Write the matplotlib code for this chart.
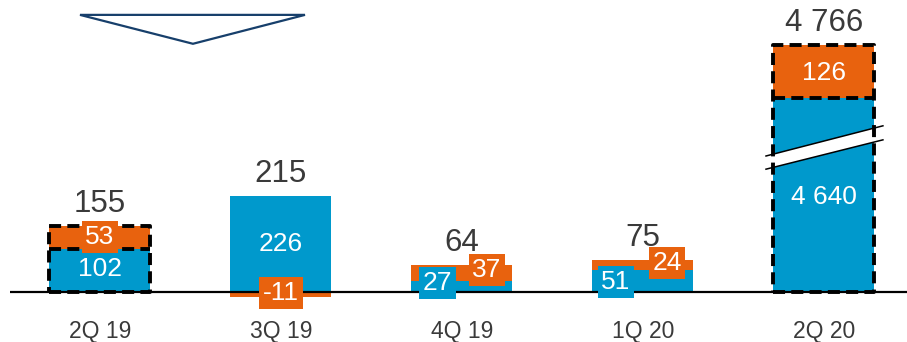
import matplotlib
matplotlib.use("Agg")
import matplotlib.pyplot as plt
from matplotlib.patches import Polygon

plt.rcParams["font.family"] = ["Liberation Sans", "DejaVu Sans"]

# ---- data -------------------------------------------------------------
quarters = ["2Q 19", "3Q 19", "4Q 19", "1Q 20", "2Q 20"]
base_part = [102, 226, 27, 51, 4640]      # blue segment
extra_part = [53, -11, 37, 24, 126]       # orange segment
totals = [155, 215, 64, 75, 4766]
highlighted = [True, False, False, False, True]

# ---- styling ----------------------------------------------------------
BLUE = "#0099CC"
ORANGE = "#E8620E"
NAVY = "#173F6B"
TEXT = "#3A3A3A"
BAR_W = 0.558

# values between these two are cut out of the y axis (broken bar)
BREAK_LOW, BREAK_HIGH = 300, 4484


def shown(v):
    return v if v < BREAK_HIGH else v - (BREAK_HIGH - BREAK_LOW)


def fmt(v):
    return f"{v:,}".replace(",", " ")


# label anchor layout per bar: (x offset, y) in axis units
base_lbl = [(0, 54), (0, 113), (-0.133, 21), (-0.149, 23.5), (0, 224)]
extra_lbl = [(0, 129), (0, -2), (0.138, 52), (0.133, 68), (0, 515)]
base_box = [False, False, True, True, False]
extra_box = [True, True, True, True, False]

fig = plt.figure(figsize=(9.07, 3.42), dpi=100)
ax = fig.add_axes([0, 0, 1, 1])
ax.set_xlim(-0.552, 4.459)
ax.set_ylim(-117.6, 687)
ax.axis("off")

xs = list(range(len(quarters)))
b_h = [shown(v) for v in base_part]
e_bottom = [b if e >= 0 else 0 for b, e in zip(b_h, extra_part)]
ax.bar(xs, b_h, width=BAR_W, color=BLUE, zorder=2)
ax.bar(xs, extra_part, bottom=e_bottom, width=BAR_W, color=ORANGE, zorder=2)

# baseline
ax.plot([-0.497, 4.459], [0, 0], color="black", lw=1.6, zorder=4,
        solid_capstyle="butt")

for i, x in enumerate(xs):
    top = b_h[i] + max(extra_part[i], 0)
    # dashed outline on highlighted quarters
    if highlighted[i]:
        l, r = x - BAR_W / 2, x + BAR_W / 2
        dash = dict(color="black", lw=2.8, dashes=(3.1, 1.6), zorder=5)
        ax.plot([l, r, r, l, l], [0, 0, top, top, 0], **dash)
        ax.plot([l, r], [b_h[i], b_h[i]], **dash)

    # segment labels
    dx, y = base_lbl[i]
    bb = dict(boxstyle="square,pad=0.14", fc=BLUE, ec="none") if base_box[i] else None
    ax.text(x + dx, y, fmt(base_part[i]), ha="center", va="center",
            color="white", fontsize=19, bbox=bb, zorder=6)
    dx, y = extra_lbl[i]
    bb = dict(boxstyle="square,pad=0.14", fc=ORANGE, ec="none") if extra_box[i] else None
    ax.text(x + dx, y, fmt(extra_part[i]), ha="center", va="center",
            color="white", fontsize=19, bbox=bb, zorder=6)

    # total above bar
    ax.annotate(fmt(totals[i]), (x, top), xytext=(0, 10),
                textcoords="offset points", ha="center", va="baseline",
                color=TEXT, fontsize=22.5, zorder=6)

    # category label
    ax.text(x, -108, quarters[i], ha="center", va="baseline",
            color=TEXT, fontsize=16.5)

# axis-break band across the tall bar
bx = xs[-1]
band = Polygon([(bx - 0.320, 289), (bx + 0.326, 358),
                (bx + 0.326, 391), (bx - 0.320, 320)],
               closed=True, fc="white", ec="none", zorder=3)
ax.add_patch(band)
ax.plot([bx - 0.320, bx + 0.326], [320, 391], color="black", lw=1.1, zorder=3)
ax.plot([bx - 0.320, bx + 0.326], [289, 358], color="black", lw=1.1, zorder=3)

# downward triangle marker
tri = Polygon([(-0.110, 652), (1.133, 652), (0.514, 584)], closed=True,
              fc="white", ec=NAVY, lw=1.6, zorder=3)
ax.add_patch(tri)

fig.savefig("out.png", dpi=100)
